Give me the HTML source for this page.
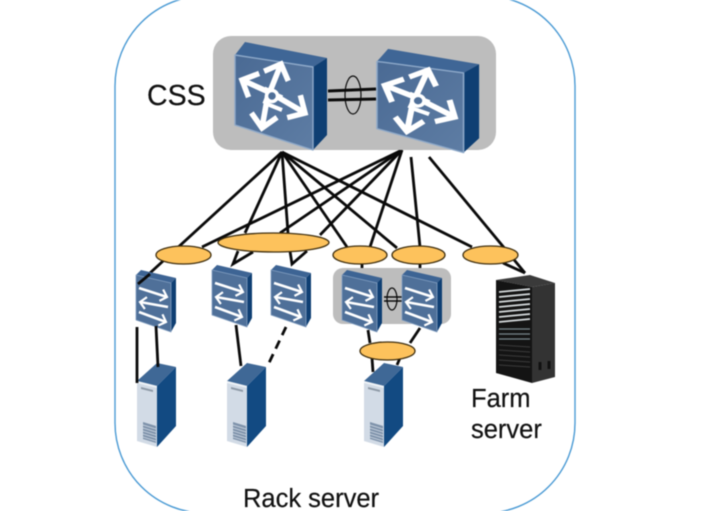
<!DOCTYPE html>
<html><head><meta charset="utf-8"><style>
html,body{margin:0;padding:0;background:#fff;width:715px;height:511px;overflow:hidden}
svg{display:block;filter:blur(.4px)}
text{font-family:"Liberation Sans",sans-serif;fill:#111;stroke:#111;stroke-width:.2px}
</style></head><body>
<svg width="715" height="511" viewBox="0 0 715 511" xmlns="http://www.w3.org/2000/svg">
<defs>
<linearGradient id="fr" x1="0" y1="0" x2="1" y2="1"><stop offset="0" stop-color="#4a6a94"/><stop offset="1" stop-color="#5e7da4"/></linearGradient>
<marker id="hb" markerUnits="userSpaceOnUse" markerWidth="30" markerHeight="34" refX="17" refY="17" orient="auto"><path d="M4 4L17 17L4 30" fill="none" stroke="#fff" stroke-width="5.500"/></marker>
<marker id="hs" markerUnits="userSpaceOnUse" markerWidth="14" markerHeight="16" refX="9" refY="8" orient="auto"><path d="M3 2L9 8L3 14" fill="none" stroke="#fff" stroke-width="2.200"/></marker>
<g id="big">
<path d="M0 15L10 2L92 18L78 27Z" fill="#3f6696"/>
<path d="M78 27L92 18V95L78 110Z" fill="#0f3f73"/>
<path d="M0 15L78 27V110L0 85Z" fill="url(#fr)" stroke="#8ea9c9" stroke-width="1.400" stroke-linejoin="round"/>
<g fill="none" stroke="#fff" stroke-width="5.500" transform="translate(37 56)">
<path d="M-7 8L9 -32" marker-end="url(#hb)"/>
<path d="M10 2L-30 -16" marker-end="url(#hb)"/>
<path d="M-3 -8L-10 32" marker-end="url(#hb)"/>
<path d="M-8 -7L33 17" marker-end="url(#hb)"/>
<path d="M-5 8L10 14" stroke-width="4"/>
<circle r="5.500" fill="#4f6f98" stroke-width="3.500"/>
</g>
</g>
<g id="sw">
<path d="M0 4L5 -1L40 7L35 12Z" fill="#3d6494"/>
<path d="M35 12L40 7V52L35 61Z" fill="#0f3f73"/>
<path d="M0 4L35 12V61L0 49Z" fill="#4f7099" stroke="#84a0c2" stroke-width=".8" stroke-linejoin="round"/>
<g fill="none" stroke="#fff" stroke-width="2.600">
<path d="M3 17L31 26" marker-end="url(#hs)"/>
<path d="M32 36L4 31" marker-end="url(#hs)"/>
<path d="M3 41L30 51" marker-end="url(#hs)"/>
</g>
</g>
<g id="srv">
<path d="M0 18L20 0L39 4L20 23Z" fill="#3f6896"/>
<path d="M20 23L39 4V63L20 84Z" fill="#124a82"/>
<path d="M0 18L20 23V84L0 78Z" fill="#d2dbe6"/>
<path d="M0 18L20 23V25L0 20Z" fill="#eef2f6"/>
<path d="M4 24L16 27V29L4 26Z" fill="#8d99a6"/>
<path d="M6 59L19 63V80L6 76Z" fill="#7f93ab"/>
<g stroke="#d2dbe6" stroke-width=".7"><path d="M6 62L19 66M6 65L19 69M6 68L19 72M6 71L19 75M6 74L19 78"/></g>
</g>
</defs>

<rect x="115" y="-4" width="460" height="517" rx="90" ry="90" fill="#fff" stroke="#4a9ad4" stroke-width="1.400"/>

<g stroke="#0a0a0a" stroke-width="2.800" fill="none">
<path d="M282 152L138 284"/>
<path d="M282 152L245 233"/>
<path d="M282 152L288 233"/>
<path d="M282 152L347 247"/>
<path d="M282 152L397 248"/>
<path d="M282 152L472 247"/>
<path d="M402 150L202 247"/>
<path d="M402 150L280 233"/>
<path d="M402 150L320 235"/>
<path d="M402 150L370 247"/>
<path d="M411 157L420 247"/>
<path d="M429 157L525 273"/>
<path d="M503 263L525 273"/>
<path d="M238 251L233 264L253 252"/>
<path d="M290 251L292 264L307 251"/>
<path d="M362 262L362 270"/>
<path d="M420 262L420 270"/>
</g>

<ellipse cx="183.500" cy="255" rx="27.500" ry="9" fill="#fdc25c" stroke="#3f2f10" stroke-width="1.300"/>
<ellipse cx="273.500" cy="242.500" rx="55.500" ry="9.500" fill="#fdc25c" stroke="#3f2f10" stroke-width="1.300"/>
<ellipse cx="360" cy="255" rx="27" ry="9" fill="#fdc25c" stroke="#3f2f10" stroke-width="1.300"/>
<ellipse cx="418.500" cy="255" rx="26.500" ry="9" fill="#fdc25c" stroke="#3f2f10" stroke-width="1.300"/>
<ellipse cx="490.500" cy="255" rx="27.500" ry="9" fill="#fdc25c" stroke="#3f2f10" stroke-width="1.300"/>

<rect x="213" y="36" width="283" height="114" rx="18" fill="#bdbdbd"/>
<rect x="333" y="268" width="118" height="56" rx="10" fill="#bdbdbd"/>

<use href="#big" transform="translate(235 40)"/>
<use href="#big" transform="translate(377 47) scale(1.110 .96)"/>
<g stroke="#0a0a0a" fill="none">
<path d="M328 91L376 89M328 100L376 99" stroke-width="3"/>
<ellipse cx="353" cy="95" rx="8" ry="19" stroke-width="1.200"/>
<path d="M384 297H402M384 301H402" stroke-width="1.500"/>
<ellipse cx="392" cy="299" rx="5" ry="11" stroke-width="1.200"/>
</g>

<use href="#sw" transform="translate(136 271)"/>
<use href="#sw" transform="translate(212 266)"/>
<use href="#sw" transform="translate(271 266)"/>
<use href="#sw" transform="translate(342 271)"/>
<use href="#sw" transform="translate(402 271)"/>
<path d="M138 284L150 274" stroke="#0a0a0a" stroke-width="2.800"/>

<use href="#srv" transform="translate(137 363)"/>
<use href="#srv" transform="translate(227 363)"/>
<use href="#srv" transform="translate(364 363)"/>

<g stroke="#0a0a0a" stroke-width="2.800" fill="none">
<path d="M137 327V383"/>
<path d="M156 326L158 367"/>
<path d="M236 325L241 366"/>
<path d="M286 327L268 365" stroke-dasharray="9 6"/>
<path d="M368 330L370 343"/>
<path d="M420 328L410 343"/>
<path d="M372 358L373 372"/>
<path d="M400 358L397 365"/>
</g>
<ellipse cx="387.500" cy="351" rx="27.500" ry="9" fill="#fdc25c" stroke="#3f2f10" stroke-width="1.300"/>

<path d="M496 280L530 275L555 283L532 287Z" fill="#3a3a3a"/>
<path d="M532 287L555 283V377L532 383Z" fill="#333"/>
<path d="M496 280L532 287V383L496 373Z" fill="#141414"/>
<g stroke="#d6dbdd" stroke-width="1.700">
<path d="M499 292L530 289M499 297L530 294M499 302L530 299M499 307L530 304M499 312L530 309M499 317L530 314M499 322L530 319"/>
</g>
<g stroke="#77868c" stroke-width="1.200">
<path d="M499 329L530 329M499 334L530 334M499 339L530 339"/>
</g>
<g stroke="#3c3c3c" stroke-width="1">
<path d="M499 345L530 347M499 350L530 352M499 355L530 357M499 360L530 362M499 365L530 367"/>
</g>
<path d="M540 362v8M549 361v8" stroke="#111" stroke-width="3"/>

<text x="147" y="105" font-size="28.500">CSS</text>
<text x="471" y="407" font-size="25.500">Farm</text>
<text x="471" y="438" font-size="25.500">server</text>
<text x="243" y="507" font-size="25.500">Rack server</text>
</svg>
</body></html>
